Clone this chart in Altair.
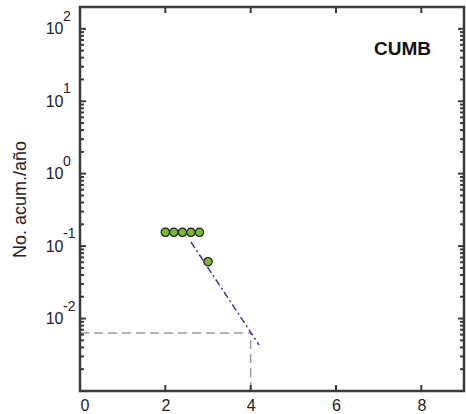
import altair as alt
import pandas as pd

# Observed cumulative annual counts
obs_x = [2.0, 2.2, 2.4, 2.6, 2.8, 3.0]
obs_y = [0.155, 0.155, 0.155, 0.155, 0.155, 0.061]

# Fitted recurrence line (start and end)
fit_x = [2.6, 4.2]
fit_y = [0.114, 0.0043]

# Reference lines at magnitude 4
ref_h_x = [0.0, 4.0]
ref_h_y = [0.00634, 0.00634]
ref_v_x = [4.0, 4.0]
ref_v_y = [0.001, 0.00634]

# Axis tick values
x_ticks = [0, 2, 4, 6, 8]
x_inner_ticks = [2, 4, 6, 8]
y_major = [0.01, 0.1, 1, 10, 100]
y_exp = ["-2", "-1", "0", "1", "2"]
y_minor = [m * 10.0 ** k for k in range(-3, 2) for m in range(2, 10)]

station = "CUMB"
station_pos = (7.56, 52.0)

W, H = 384, 384
xs = alt.Scale(domain=[0, 9], nice=False, zero=False)
ys = alt.Scale(type="log", domain=[0.001, 200], nice=False)

FONT = "Liberation Sans"
AX = "#3a3a3a"

base_x = alt.X("x:Q", scale=xs,
               axis=alt.Axis(values=x_ticks, ticks=False, domain=False, grid=False,
                             labelFontSize=16, labelPadding=6, labelColor="#222",
                             labelFont=FONT, title=None))
base_y = alt.Y("y:Q", scale=ys,
               axis=alt.Axis(values=y_major, ticks=False, domain=False, grid=False,
                             labelExpr="'10'", labelFontSize=16, labelPadding=17,
                             labelColor="#222", labelFont=FONT,
                             title="No. acum./año", titleFontSize=18,
                             titleFontWeight="normal", titleFont=FONT,
                             titleColor="#222", titleX=-60, titleY=192,
                             titleBaseline="middle"))

obs = pd.DataFrame({"x": obs_x, "y": obs_y})
fit = pd.DataFrame({"x": fit_x, "y": fit_y})
ref_h = pd.DataFrame({"x": ref_h_x, "y": ref_h_y})
ref_v = pd.DataFrame({"x": ref_v_x, "y": ref_v_y})

ref_h_line = alt.Chart(ref_h).mark_line(color="#9a9a9a", strokeWidth=1.5,
                                        strokeDash=[9, 5]).encode(x=base_x, y=base_y)
ref_v_line = alt.Chart(ref_v).mark_line(color="#9a9a9a", strokeWidth=1.5,
                                        strokeDash=[9, 5]).encode(x="x:Q", y="y:Q")
fit_line = alt.Chart(fit).mark_line(color="#3b3b9c", strokeWidth=1.5,
                                    strokeDash=[7, 3, 2, 3]).encode(x="x:Q", y="y:Q")
points = alt.Chart(obs).mark_point(shape="circle", filled=True, size=70,
                                   fill="#7cb82f", stroke="#1a1a1a",
                                   strokeWidth=1.2, opacity=1).encode(x="x:Q", y="y:Q")

# Inward ticks on all four sides
ymaj = pd.DataFrame({"y": y_major})
ymin = pd.DataFrame({"y": y_minor})
xt = pd.DataFrame({"x": x_inner_ticks})


def ytick(df, x0, x1):
    return alt.Chart(df).mark_rule(color=AX, strokeWidth=2, opacity=1).encode(
        y="y:Q", x=alt.value(x0), x2=alt.value(x1))


def xtick(df, y0, y1):
    return alt.Chart(df).mark_rule(color=AX, strokeWidth=2, opacity=1).encode(
        x="x:Q", y=alt.value(y0), y2=alt.value(y1))


ticks = [
    ytick(ymaj, 0, 6), ytick(ymaj, W - 6, W),
    ytick(ymin, 0, 4), ytick(ymin, W - 4, W),
    xtick(xt, H, H - 6), xtick(xt, 0, 6),
]

# Plot frame
frame = alt.Chart(pd.DataFrame({"k": [0]})).mark_rect(
    fillOpacity=0, stroke=AX, strokeWidth=2.5, strokeOpacity=1
).encode(x=alt.value(0), x2=alt.value(W), y=alt.value(0), y2=alt.value(H))

# Exponents of the log-axis labels
exps = alt.Chart(pd.DataFrame({"y": y_major, "e": y_exp})).mark_text(
    align="left", baseline="middle", fontSize=14, font=FONT, color="#222", dy=-12
).encode(y="y:Q", x=alt.value(-17), text="e:N")

label = alt.Chart(pd.DataFrame({"x": [station_pos[0]], "y": [station_pos[1]],
                                "t": [station]})).mark_text(
    fontSize=19, fontWeight="bold", font=FONT, color="#111",
    align="center", baseline="middle"
).encode(x="x:Q", y="y:Q", text="t:N")

chart = alt.layer(
    ref_h_line, ref_v_line, fit_line, points, *ticks, frame, exps, label
).properties(
    width=W, height=H, autosize=alt.AutoSizeParams(type="none"),
    padding={"left": 80, "top": 7, "right": 2, "bottom": 23}
).configure(
    font=FONT
).configure_view(
    strokeWidth=0
)

chart.save("out.html", embed_options={"renderer": "svg", "actions": False})
